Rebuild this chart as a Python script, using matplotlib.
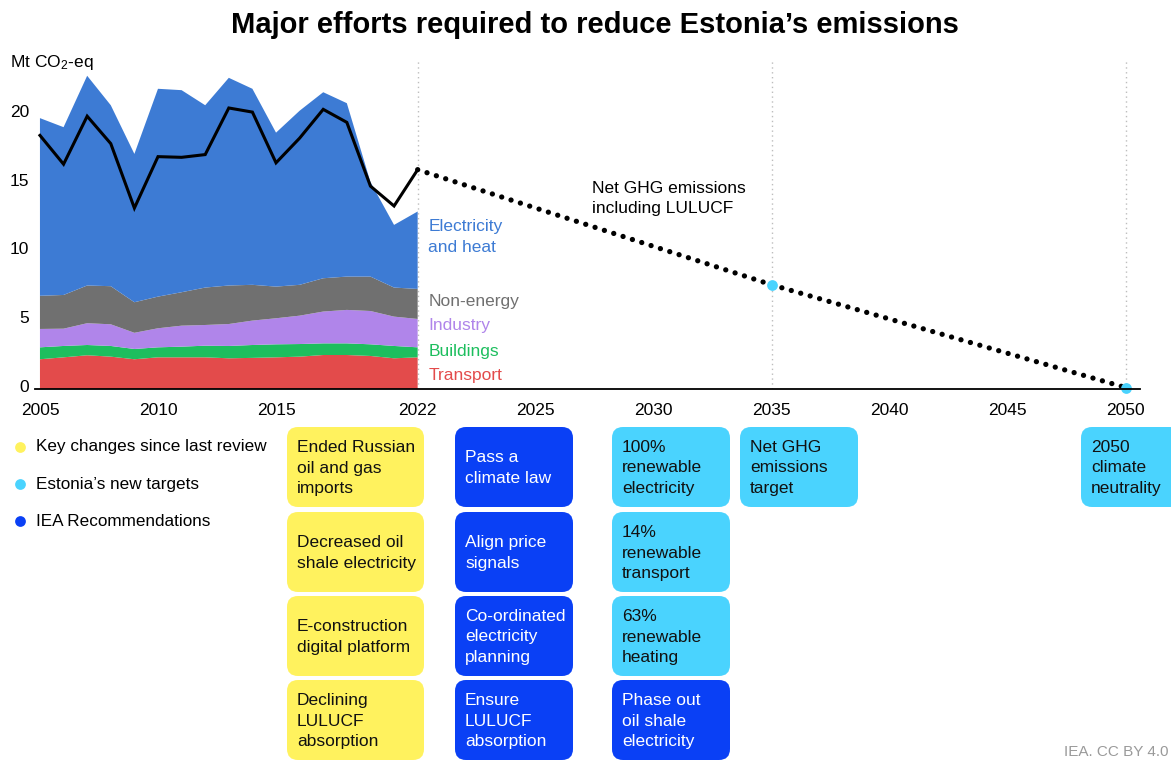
import numpy as np
import matplotlib
matplotlib.use("Agg")
import matplotlib.pyplot as plt
from matplotlib.patches import FancyBboxPatch
from matplotlib.transforms import ScaledTranslation

plt.rcParams['font.family'] = ['Liberation Sans', 'DejaVu Sans']
plt.rcParams['mathtext.fontset'] = 'custom'
plt.rcParams['mathtext.rm'] = 'Liberation Sans'
plt.rcParams['mathtext.it'] = 'Liberation Sans:italic'

# historical emissions by sector, Mt CO2-eq
years = list(range(2005, 2022))
transport = [2.17, 2.31, 2.46, 2.36, 2.17, 2.31, 2.31, 2.31, 2.24, 2.27, 2.31, 2.36, 2.48, 2.48, 2.41, 2.24, 2.31]
buildings = [0.87, 0.83, 0.75, 0.78, 0.75, 0.73, 0.78, 0.85, 0.90, 0.94, 0.95, 0.92, 0.85, 0.85, 0.85, 0.90, 0.73]
industry = [1.34, 1.26, 1.59, 1.58, 1.18, 1.39, 1.53, 1.51, 1.60, 1.78, 1.90, 2.07, 2.32, 2.44, 2.43, 2.14, 2.07]
non_energy = [2.42, 2.46, 2.75, 2.78, 2.23, 2.31, 2.44, 2.73, 2.81, 2.61, 2.31, 2.25, 2.43, 2.43, 2.51, 2.12, 2.19]
electricity = [12.96, 12.24, 15.30, 13.20, 10.82, 15.16, 14.74, 13.30, 15.15, 14.30, 11.23, 12.70, 13.57, 12.65, 6.90, 4.57, 5.65]
net_ghg = [18.5, 16.4, 19.9, 17.9, 13.2, 16.95, 16.9, 17.1, 20.5, 20.2, 16.5, 18.3, 20.4, 19.45, 14.8, 13.35, 16.0]

# targets for net emissions including LULUCF
target_years = [2035, 2050]
target_values = [7.6, 0.1]

tick_years = [2005, 2010, 2015, 2022, 2025, 2030, 2035, 2040, 2045, 2050]

sector_names = ['Transport', 'Buildings', 'Industry', 'Non-energy', 'Electricity\nand heat']
sector_colors = ['#E34B4B', '#1DBE5E', '#B085EA', '#707070', '#3D7BD4']

# boxes under the timeline
key_changes = ["Ended Russian\noil and gas\nimports", "Decreased oil\nshale electricity",
               "E-construction\ndigital platform", "Declining\nLULUCF\nabsorption"]
recommendations = ["Pass a\nclimate law", "Align price\nsignals",
                   "Co-ordinated\nelectricity\nplanning", "Ensure\nLULUCF\nabsorption"]
col3_text = ["100%\nrenewable\nelectricity", "14%\nrenewable\ntransport",
             "63%\nrenewable\nheating", "Phase out\noil shale\nelectricity"]
col3_kind = ['target', 'target', 'target', 'rec']
col4_text = ["Net GHG\nemissions\ntarget"]
col5_text = ["2050\nclimate\nneutrality"]

legend_names = ["Key changes since last review", "Estonia\u2019s new targets", "IEA Recommendations"]

YELLOW = '#FFF25E'
LIGHT = '#4AD3FE'
DARK = '#0A40F5'
kind_color = {'key': YELLOW, 'target': LIGHT, 'rec': DARK}


def xpos(year):
    # history at one unit per year, outlook compressed so 5 years take 5 units after 2022
    if year <= 2021:
        return year - 2005
    return float(np.interp(year, [2022, 2025, 2050], [16, 21, 46]))


W, H = 1171, 760
fig = plt.figure(figsize=(W / 100, H / 100), dpi=100)
ax = fig.add_axes([35 / W, 1 - 389 / H, (1140 - 35) / W, (389 - 60) / H])

hx = [xpos(y) for y in years]
ax.stackplot(hx, transport, buildings, industry, non_energy, electricity,
             colors=sector_colors, linewidth=0, zorder=2)
ax.plot(hx, net_ghg, color='black', lw=2.2, zorder=4, solid_joinstyle='miter')

ox = [xpos(2022)] + [xpos(y) for y in target_years]
oy = [net_ghg[-1]] + target_values
ax.plot(ox, oy, color='black', lw=3.8, linestyle=(0, (0.01, 1.85)),
        dash_capstyle='round', zorder=4)
ax.scatter([xpos(y) for y in target_years], target_values, s=60, color=LIGHT,
           zorder=5, linewidths=0, clip_on=False)

for y in [2022, 2035, 2050]:
    ax.axvline(xpos(y), color='#BDBDBD', lw=1, linestyle=(0, (1, 2.5)), zorder=1)

# sector labels next to the last historical year
lx = hx[-1] + 0.45
label_y = [0.95, 2.77, 4.6, 6.4, 11.1]
for name, col, ly in zip(sector_names, sector_colors, label_y):
    ax.text(lx, ly, name, color=col, fontsize=12.5, va='center', ha='left', linespacing=1.45)

ax.text(23.4, 13.9, "Net GHG emissions\nincluding LULUCF", fontsize=12.5, va='center',
        ha='left', linespacing=1.45)

ax.set_xlim(-0.21, 46.6)
ax.set_ylim(0, 24)
ax.set_yticks([0, 5, 10, 15, 20])
ax.set_xticks([xpos(y) for y in tick_years])
ax.set_xticklabels([str(y) for y in tick_years])
ax.tick_params(axis='both', length=0, labelsize=12.5)
ax.tick_params(axis='x', pad=10)
ax.tick_params(axis='y', pad=4)
for s in ['left', 'right', 'top']:
    ax.spines[s].set_visible(False)
ax.spines['bottom'].set_linewidth(1.3)
ax.spines['bottom'].set_zorder(6)
# y labels sit a little above their gridline value
lift = ScaledTranslation(0, 3.5 / 100, fig.dpi_scale_trans)
for t in ax.get_yticklabels():
    t.set_transform(t.get_transform() + lift)

fig.text(0.508, 1 - 25 / H, "Major efforts required to reduce Estonia\u2019s emissions",
         ha='center', va='center', fontsize=21, fontweight='bold')
fig.text(10 / W, 1 - 62 / H, "Mt CO$_2$-eq", ha='left', va='center', fontsize=12.5)

# overlay in pixel units for the legend and the boxes
ov = fig.add_axes([0, 0, 1, 1])
ov.set_xlim(0, W)
ov.set_ylim(H, 0)
ov.set_axis_off()

for i, (name, col) in enumerate(zip(legend_names, [YELLOW, LIGHT, DARK])):
    yy = 447 + i * 37
    ov.scatter([20], [yy], s=60, color=col, linewidths=0)
    ov.text(36, yy, name, fontsize=12.3, va='center', ha='left')

col_x = [287, 455, 612, 740, 1081]
col_w = [137, 118, 118, 118, 100]
row_y = [427, 512, 596, 680]
box_h = 80


def draw_box(cx, cw, ry, text, kind):
    ov.add_patch(FancyBboxPatch((cx, ry), cw, box_h,
                                boxstyle="round,pad=0,rounding_size=11",
                                facecolor=kind_color[kind], edgecolor='none', clip_on=False))
    tc = 'white' if kind == 'rec' else '#111111'
    ov.text(cx + 10, ry + box_h / 2 + 1, text, color=tc, fontsize=12.5,
            va='center', ha='left', linespacing=1.45)


for r, t in enumerate(key_changes):
    draw_box(col_x[0], col_w[0], row_y[r], t, 'key')
for r, t in enumerate(recommendations):
    draw_box(col_x[1], col_w[1], row_y[r], t, 'rec')
for r, (t, k) in enumerate(zip(col3_text, col3_kind)):
    draw_box(col_x[2], col_w[2], row_y[r], t, k)
draw_box(col_x[3], col_w[3], row_y[0], col4_text[0], 'target')
draw_box(col_x[4], col_w[4], row_y[0], col5_text[0], 'target')

fig.text(1 - 2 / W, 1 - 752 / H, "IEA. CC BY 4.0", ha='right', va='center',
         fontsize=11, color='#9A9A9A', family=['Liberation Sans Narrow', 'Liberation Sans'])

fig.savefig("out.png", dpi=100)
